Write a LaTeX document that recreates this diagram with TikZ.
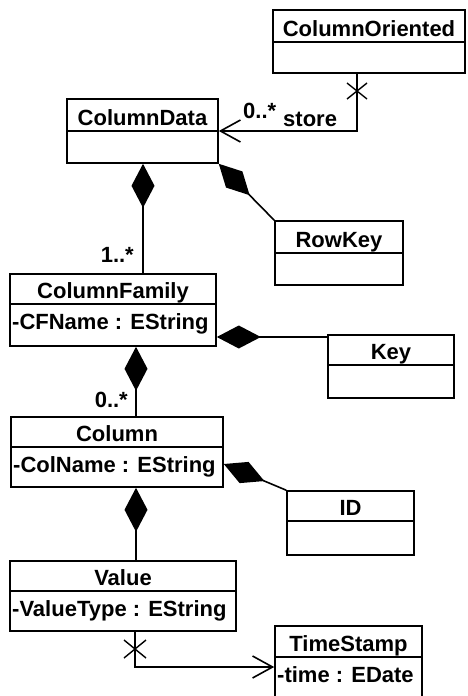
\documentclass[tikz,border=0pt]{standalone}
\usepackage{fontspec}
\setmainfont{Liberation Sans}
\usetikzlibrary{arrows.meta,fit}

\newcommand{\umlfont}{\fontsize{22}{26}\selectfont\bfseries}

\tikzset{
  classframe/.style={draw, line width=1.6pt, inner sep=0pt},
  classtitle/.style={anchor=base, inner sep=0pt, font=\umlfont},
  classattr/.style={anchor=base west, inner sep=0pt, font=\umlfont},
  mult/.style={inner sep=0pt, font=\umlfont},
  link/.style={line width=1.6pt},
  comp/.style={link, {Diamond[length=44pt,width=23pt]}-},
  assoc/.style={link, -{Straight Barb[length=20pt,width=22pt]}},
  navcross/.style={line width=1.4pt},
}

% class box: name, left, top, right, separator, bottom, title, attribute
\newcommand{\classbox}[8]{%
  \coordinate (#1-nw) at (#2,#3);
  \coordinate (#1-se) at (#4,#6);
  \node[classframe, fit=(#1-nw)(#1-se)] (#1) {};
  \draw[line width=1.6pt] (#2,#5) -- (#4,#5);
  \node[classtitle] (#1-name) at ({(#2+#4)/2},#5-6) {#7};
  \node[classattr] (#1-attr) at (#2+2,#5+25.5) {#8};
}

\begin{document}
\begin{tikzpicture}[x=1pt, y=-1pt]
  \useasboundingbox (0,0) rectangle (468,696);
  \clip (0,0) rectangle (468,696);

  % classes
  \classbox{co}{273}{10}{465}{42}{73}{ColumnOriented}{}
  \classbox{cd}{67}{99}{218}{131}{163}{ColumnData}{}
  \classbox{rk}{275}{221}{403}{253}{285}{RowKey}{}
  \classbox{cf}{10}{274}{216}{304}{346}{ColumnFamily}{-CFName : EString}
  \classbox{key}{328}{335}{454}{365}{398}{Key}{}
  \classbox{col}{11}{417}{223}{447}{487}{Column}{-ColName : EString}
  \classbox{id}{287}{491}{414}{521}{555}{ID}{}
  \classbox{val}{10}{561}{236}{591}{631}{Value}{-ValueType : EString}
  \classbox{ts}{275}{626}{422}{657}{720}{TimeStamp}{-time : EDate}

  % helper lines for connector positions
  \coordinate (vx143) at (143,0);
  \coordinate (vx136) at (136,0);
  \coordinate (vx135) at (135,0);
  \coordinate (vx357) at (357,0);
  \coordinate (hy337) at (0,337);
  \coordinate (hy464) at (0,464);
  \coordinate (hy667) at (0,667);

  % store association
  \draw[assoc] (co.south -| vx357) |- (cd.east);
  \coordinate (x1) at (357,91);
  \draw[navcross] (x1) ++(-10,-8) -- ++(20,16);
  \draw[navcross] (x1) ++(10,-8) -- ++(-20,16);
  \node[mult, anchor=base west] (m1) at (243,118) {0..*};
  \node[mult, anchor=base west] (st) at (283,126) {store};

  % compositions
  \draw[comp] (cd.south -| vx143) -- (cf.north -| vx143);
  \node[mult, anchor=base east] (m2) at (134,262) {1..*};
  \draw[comp] (cd.south east) -- (rk.north west);
  \draw[comp] (cf.east |- hy337) -- (key.west |- hy337);
  \draw[comp] (cf.south -| vx136) -- (col.north -| vx136);
  \node[mult, anchor=base east] (m3) at (128,407) {0..*};
  \draw[comp] (col.east |- hy464) -- (id.north west);
  \draw[comp] (col.south -| vx136) -- (val.north -| vx136);

  % time stamp association
  \draw[assoc] (val.south -| vx135) |- (ts.west |- hy667);
  \coordinate (x2) at (135,649);
  \draw[navcross] (x2) ++(-11,-9) -- ++(22,18);
  \draw[navcross] (x2) ++(11,-9) -- ++(-22,18);
\end{tikzpicture}
\end{document}
